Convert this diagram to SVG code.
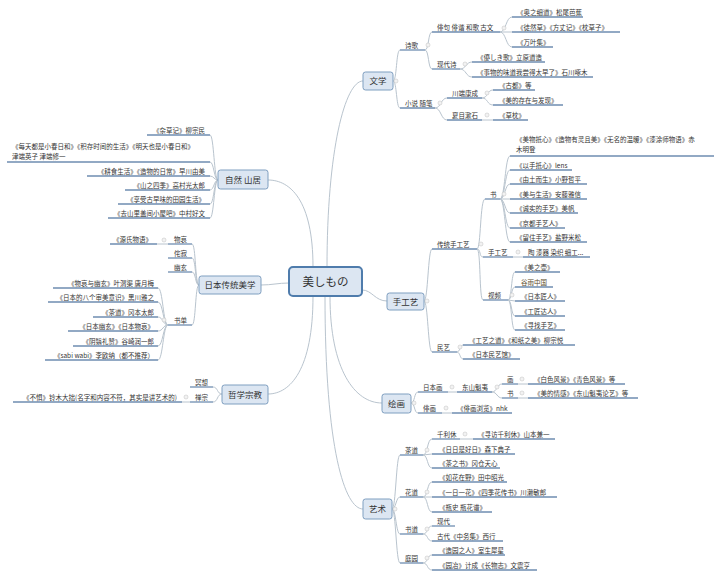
<svg xmlns="http://www.w3.org/2000/svg" width="720" height="578" viewBox="0 0 720 578">
<style>
text{font-family:"Noto Sans CJK SC","Noto Sans",sans-serif;fill:#333}
.t{font-size:6.5px}
.r{text-anchor:end}
.ul{stroke:#6e8db0;stroke-width:1.3;fill:none}
.c{stroke:#b9c4ce;stroke-width:1;fill:none}
.box{fill:#dce6f2;stroke:#7f9fc0;stroke-width:1}
.bt{font-size:8.5px;text-anchor:middle}
.dot{fill:#f2f2f2;stroke:#c8c8c8;stroke-width:.6}
</style>
<rect width="720" height="578" fill="#fff"/>
<g id="connectors">
<path class="c" d="M327 267C327 150 345 81 363 81"/>
<path class="c" d="M313 267C313 200 290 180 268 180"/>
<path class="c" d="M289 283C278 283 272 285 261 285"/>
<path class="c" d="M362 290C372 290 375 301 387 301"/>
<path class="c" d="M313 296C313 370 290 394 268 394"/>
<path class="c" d="M330 296C330 370 355 403 382 403"/>
<path class="c" d="M325 296C325 450 345 509 363 509"/>
<!-- 文学 -->
<path class="c" d="M393 81C397 81 396 50 400 50M393 81C397 81 396 108 400 108"/>
<path class="c" d="M425 50C429 50 428 32 432 32M425 50C429 50 428 69 432 69"/>
<path class="c" d="M500 32C506 32 506 17 512 17M500 32L512 32M500 32C506 32 506 47 512 47"/>
<path class="c" d="M460 69C466 69 466 62 472 62M460 69C466 69 466 77 472 77"/>
<path class="c" d="M435 108C441 108 441 98 447 98M435 108C441 108 441 120 447 120"/>
<path class="c" d="M482 98C488 98 487 90 493 90M482 98C488 98 487 105 493 105M482 120L493 120"/>
<!-- 手工艺 -->
<path class="c" d="M424 301C428 301 428 249 432 249M424 301C428 301 428 352 432 352"/>
<path class="c" d="M477 249C481 249 480 199 485 199M477 249C481 249 479 257 483 257M477 249C481 249 479 300 483 300"/>
<path class="c" d="M500 199C505 199 505 156 510 156M500 199C505 199 505 170 510 170M500 199C505 199 505 184 510 184M500 199L510 199M500 199C505 199 505 213 510 213M500 199C505 199 505 228 510 228M500 199C505 199 505 242 510 242"/>
<path class="c" d="M513 257L523 257"/>
<path class="c" d="M508 300C512 300 511 272 515 272M508 300C512 300 511 287 515 287M508 300L515 301M508 300C512 300 511 316 515 316M508 300C512 300 511 330 515 330"/>
<path class="c" d="M457 352C460 352 460 345 463 345M457 352C460 352 460 359 463 359"/>
<!-- 绘画 -->
<path class="c" d="M411 403C415 403 414 392 418 392M411 403C415 403 414 413 418 413"/>
<path class="c" d="M448 392L457 392M442 413L452 413"/>
<path class="c" d="M492 392C497 392 497 384 502 384M492 392C497 392 497 398 502 398"/>
<path class="c" d="M518 384L528 384M518 398L528 398"/>
<!-- 艺术 -->
<path class="c" d="M392 509C396 509 396 455 400 455M392 509C396 509 396 497 400 497M392 509C396 509 396 534 400 534M392 509C396 509 396 563 400 563"/>
<path class="c" d="M423 455C428 455 427 439 432 439M423 455L432 454M423 455C428 455 427 468 432 468"/>
<path class="c" d="M460 439L473 439"/>
<path class="c" d="M423 497C428 497 427 482 432 482M423 497L432 497M423 497C428 497 427 512 432 512"/>
<path class="c" d="M423 534C428 534 427 526 432 526M423 534C428 534 427 541 432 541"/>
<path class="c" d="M423 563C428 563 427 555 432 555M423 563C428 563 427 570 432 570"/>
<!-- 自然 山居 -->
<path class="c" d="M218 180C214 180 214 135 210 135M218 180C214 180 214 162 210 162M218 180C214 180 214 176 210 176M218 180C214 180 214 190 210 190M218 180C214 180 214 204 210 204M218 180C214 180 214 218 210 218"/>
<!-- 日本传统美学 -->
<path class="c" d="M199 285C195 285 196 244 192 244M199 285C195 285 196 258 192 258M199 285C195 285 196 272 192 272M199 285C195 285 196 325 192 325"/>
<path class="c" d="M168 244L157 244"/>
<path class="c" d="M168 325C163 325 163 288 158 288M168 325C163 325 163 302 158 302M168 325C163 325 163 317 158 317M168 325C163 325 163 331 158 331M168 325C163 325 163 346 158 346M168 325C163 325 163 360 158 360"/>
<!-- 哲学宗教 -->
<path class="c" d="M222 394C217 394 218 387 213 387M222 394C217 394 218 402 213 402"/>
<path class="c" d="M190 402L182 402"/>
</g>

<g id="center">
<rect x="289" y="267" width="73" height="29" rx="4" fill="#dce6f2" stroke="#4f7cac" stroke-width="2"/>
<text x="325.5" y="285.5" font-size="11.5" text-anchor="middle">美しもの</text>
</g>

<!-- ========== 文学 ========== -->
<g id="wenxue"><rect class="box" x="363" y="72" width="30" height="18" rx="2.5"/><text class="bt" x="378" y="84">文学</text><circle class="dot" cx="396" cy="81" r="2"/></g>
<g id="shige"><path class="ul" d="M400 50H425"/><text class="t" x="405" y="47.5">诗歌</text><circle class="dot" cx="428" cy="45" r="2"/></g>
<g id="haiku"><path class="ul" d="M432 32H500"/><text class="t" x="437" y="29.5">俳句 俳谐 和歌 古文</text><circle class="dot" cx="504" cy="28" r="2"/></g>
<g id="okunohosomichi"><path class="ul" d="M512 17H583"/><text class="t" x="517" y="14.5">《奥之细道》松尾芭蕉</text></g>
<g id="tsurezuregusa"><path class="ul" d="M512 32H620"/><text class="t" x="517" y="29.5">《徒然草》《方丈记》《枕草子》</text></g>
<g id="manyoshu"><path class="ul" d="M512 47H553"/><text class="t" x="517" y="44.5">《万叶集》</text></g>
<g id="xiandaishi"><path class="ul" d="M432 69H460"/><text class="t" x="437" y="66.5">现代诗</text><circle class="dot" cx="465" cy="64" r="2"/></g>
<g id="yasashikiuta"><path class="ul" d="M472 62H545"/><text class="t" x="477" y="59.5">《優しき歌》立原道造</text></g>
<g id="takuboku"><path class="ul" d="M472 77H593"/><text class="t" x="477" y="74.5">《事物的味道我尝得太早了》石川啄木</text></g>
<g id="xiaoshuo"><path class="ul" d="M400 108H435"/><text class="t" x="405" y="105.5">小说 随笔</text><circle class="dot" cx="440" cy="103" r="2"/></g>
<g id="kawabata"><path class="ul" d="M447 98H482"/><text class="t" x="452" y="95.5">川端康成</text><circle class="dot" cx="487" cy="93" r="2"/></g>
<g id="koto"><path class="ul" d="M493 90H535"/><text class="t" x="499" y="87.5">《古都》等</text></g>
<g id="bidesonzai"><path class="ul" d="M493 105H563"/><text class="t" x="499" y="102.5">《美的存在与发现》</text></g>
<g id="natsume"><path class="ul" d="M447 120H482"/><text class="t" x="452" y="117.5">夏目漱石</text><circle class="dot" cx="487" cy="115" r="2"/></g>
<g id="kusamakura"><path class="ul" d="M493 120H528"/><text class="t" x="499" y="117.5">《草枕》</text></g>

<!-- ========== 手工艺 ========== -->
<g id="shougongyi"><rect class="box" x="387" y="293" width="37" height="17" rx="2.5"/><text class="bt" x="405.5" y="304.5">手工艺</text><circle class="dot" cx="427" cy="301" r="2"/></g>
<g id="chuantong"><path class="ul" d="M432 249H477"/><text class="t" x="437" y="246.5">传统手工艺</text><circle class="dot" cx="481" cy="244" r="2"/></g>
<g id="shu1"><path class="ul" d="M485 199H500"/><text class="t" x="490" y="196.5">书</text><circle class="dot" cx="504" cy="194" r="2"/></g>
<g id="akagi"><path class="ul" d="M510 156H714"/><text class="t" x="516" y="142">《美物抵心》《造物有灵且美》《无名的温暖》《漆涂师物语》赤</text><text class="t" x="516" y="152">木明登</text></g>
<g id="yishoudixin"><path class="ul" d="M510 170H572"/><text class="t" x="516" y="167.5">《以手抵心》lens</text></g>
<g id="youtuersheng"><path class="ul" d="M510 184H587"/><text class="t" x="516" y="181.5">《由土而生》小野哲平</text></g>
<g id="meiyushenghuo"><path class="ul" d="M510 199H587"/><text class="t" x="516" y="196.5">《美与生活》安藤雅信</text></g>
<g id="chengshi"><path class="ul" d="M510 213H578"/><text class="t" x="516" y="210.5">《诚实的手艺》美帆</text></g>
<g id="jingdu"><path class="ul" d="M510 228H565"/><text class="t" x="516" y="225.5">《京都手艺人》</text></g>
<g id="liuzhu"><path class="ul" d="M510 242H587"/><text class="t" x="516" y="239.5">《留住手艺》盐野米松</text></g>
<g id="shougongyi2"><path class="ul" d="M483 257H513"/><text class="t" x="488" y="254.5">手工艺</text><circle class="dot" cx="518" cy="252" r="2"/></g>
<g id="taoqi"><path class="ul" d="M523 257H590"/><text class="t" x="528" y="254.5">陶 漆器 染织 细工...</text></g>
<g id="shipin"><path class="ul" d="M483 300H508"/><text class="t" x="488" y="297.5">视频</text><circle class="dot" cx="512" cy="295" r="2"/></g>
<g id="meizhihu"><path class="ul" d="M515 272H560"/><text class="t" x="521" y="269.5">《美之壶》</text></g>
<g id="guyu"><path class="ul" d="M515 287H553"/><text class="t" x="521" y="284.5" style="fill:#5a4a2a">谷雨中国</text></g>
<g id="jiangren"><path class="ul" d="M515 301H565"/><text class="t" x="521" y="298.5">《日本匠人》</text></g>
<g id="gongjiang"><path class="ul" d="M515 316H565"/><text class="t" x="521" y="313.5">《工匠达人》</text></g>
<g id="xunzhao"><path class="ul" d="M515 330H565"/><text class="t" x="521" y="327.5">《寻找手艺》</text></g>
<g id="minyi"><path class="ul" d="M432 352H457"/><text class="t" x="437" y="349.5">民艺</text><circle class="dot" cx="460" cy="347" r="2"/></g>
<g id="gongyizhidao"><path class="ul" d="M463 345H575"/><text class="t" x="469" y="342.5">《工艺之道》《和纸之美》柳宗悦</text></g>
<g id="minyiguan"><path class="ul" d="M463 359H520"/><text class="t" x="469" y="356.5">《日本民艺馆》</text></g>

<!-- ========== 绘画 ========== -->
<g id="huihua"><rect class="box" x="382" y="394" width="29" height="19" rx="2.5"/><text class="bt" x="396.5" y="406.5">绘画</text><circle class="dot" cx="414" cy="403" r="2"/></g>
<g id="ribenhua"><path class="ul" d="M418 392H448"/><text class="t" x="423" y="389.5">日本画</text><circle class="dot" cx="452" cy="387" r="2"/></g>
<g id="dongshan"><path class="ul" d="M457 392H492"/><text class="t" x="462" y="389.5">东山魁夷</text><circle class="dot" cx="497" cy="387" r="2"/></g>
<g id="hua"><path class="ul" d="M502 384H518"/><text class="t" x="507" y="381.5">画</text><circle class="dot" cx="522" cy="379" r="2"/></g>
<g id="baisefengjing"><path class="ul" d="M528 384H625"/><text class="t" x="534" y="381.5">《白色风景》《青色风景》等</text></g>
<g id="shu2"><path class="ul" d="M502 398H518"/><text class="t" x="507" y="395.5">书</text><circle class="dot" cx="522" cy="393" r="2"/></g>
<g id="meideqinggan"><path class="ul" d="M528 398H638"/><text class="t" x="534" y="395.5">《美的情感》《东山魁夷论艺》等</text></g>
<g id="haiga"><path class="ul" d="M418 413H442"/><text class="t" x="423" y="410.5">俳画</text><circle class="dot" cx="446" cy="408" r="2"/></g>
<g id="haigaliulan"><path class="ul" d="M452 413H512"/><text class="t" x="457" y="410.5">《俳画浏览》nhk</text></g>

<!-- ========== 艺术 ========== -->
<g id="yishu"><rect class="box" x="363" y="499" width="29" height="20" rx="2.5"/><text class="bt" x="377.5" y="512">艺术</text><circle class="dot" cx="395" cy="509" r="2"/></g>
<g id="chadao"><path class="ul" d="M400 455H423"/><text class="t" x="405" y="452.5">茶道</text><circle class="dot" cx="427" cy="450" r="2"/></g>
<g id="qianlixiu"><path class="ul" d="M432 439H460"/><text class="t" x="437" y="436.5">千利休</text><circle class="dot" cx="465" cy="434" r="2"/></g>
<g id="xunfang"><path class="ul" d="M473 439H555"/><text class="t" x="478" y="436.5">《寻访千利休》山本兼一</text></g>
<g id="ririshihaori"><path class="ul" d="M432 454H515"/><text class="t" x="439" y="451.5">《日日是好日》森下典子</text></g>
<g id="chazhishu"><path class="ul" d="M432 468H500"/><text class="t" x="439" y="465.5">《茶之书》冈仓天心</text></g>
<g id="huadao"><path class="ul" d="M400 497H423"/><text class="t" x="405" y="494.5">花道</text><circle class="dot" cx="427" cy="492" r="2"/></g>
<g id="ruhuazaiye"><path class="ul" d="M432 482H507"/><text class="t" x="439" y="479.5">《如花在野》田中昭光</text></g>
<g id="yiriyihua"><path class="ul" d="M432 497H557"/><text class="t" x="439" y="494.5">《一日一花》《四季花传书》川濑敏郎</text></g>
<g id="pingshi"><path class="ul" d="M432 512H492"/><text class="t" x="439" y="509.5">《瓶史 瓶花谱》</text></g>
<g id="shudao"><path class="ul" d="M400 534H423"/><text class="t" x="405" y="531.5">书道</text><circle class="dot" cx="427" cy="529" r="2"/></g>
<g id="xiandai"><path class="ul" d="M432 526H455"/><text class="t" x="437" y="523.5">现代</text></g>
<g id="gudai"><path class="ul" d="M432 541H503"/><text class="t" x="437" y="538.5">古代《中务集》西行</text></g>
<g id="tingyuan"><path class="ul" d="M400 563H423"/><text class="t" x="405" y="560.5">庭园</text><circle class="dot" cx="427" cy="558" r="2"/></g>
<g id="zaoyuan"><path class="ul" d="M432 555H505"/><text class="t" x="439" y="552.5">《造园之人》室生犀星</text></g>
<g id="yuanye"><path class="ul" d="M432 570H537"/><text class="t" x="439" y="567.5">《园冶》计成《长物志》文震亨</text></g>

<!-- ========== 自然 山居 ========== -->
<g id="ziran"><rect class="box" x="218" y="170" width="50" height="19" rx="2.5"/><text class="bt" x="243" y="182.5">自然 山居</text></g>
<g id="zacaoji"><path class="ul" d="M147 135H210"/><text class="t r" x="205" y="132.5">《杂草记》柳宗民</text></g>
<g id="xiaochunri"><path class="ul" d="M7 162H210"/><text class="t" x="12" y="148.5">《每天都是小春日和》《积存时间的生活》《明天也是小春日和》</text><text class="t" x="12" y="159">津端英子 津端修一</text></g>
<g id="gengshi"><path class="ul" d="M87 176H210"/><text class="t r" x="205" y="173.5">《耕食生活》《造物的日常》早川由美</text></g>
<g id="shanzhisiji"><path class="ul" d="M125 190H210"/><text class="t r" x="205" y="187.5">《山之四季》高村光太郎</text></g>
<g id="guzaowei"><path class="ul" d="M118 204H210"/><text class="t r" x="205" y="201.5">《享受古早味的田园生活》</text></g>
<g id="xiaowu"><path class="ul" d="M108 218H210"/><text class="t r" x="205" y="215.5">《去山里盖间小屋吧》中村好文</text></g>

<!-- ========== 日本传统美学 ========== -->
<g id="meixue"><rect class="box" x="199" y="276" width="62" height="18" rx="2.5"/><text class="bt" x="230" y="288">日本传统美学</text></g>
<g id="wuai"><path class="ul" d="M168 244H192"/><text class="t r" x="187" y="241.5">物哀</text><circle class="dot" cx="164" cy="240" r="2"/></g>
<g id="genji"><path class="ul" d="M110 244H157"/><text class="t r" x="152" y="241.5">《源氏物语》</text></g>
<g id="wabisabi"><path class="ul" d="M168 258H192"/><text class="t r" x="187" y="255.5">侘寂</text></g>
<g id="youxuan"><path class="ul" d="M168 272H192"/><text class="t r" x="187" y="269.5">幽玄</text></g>
<g id="shudan"><path class="ul" d="M168 325H192"/><text class="t r" x="187" y="322.5">书单</text><circle class="dot" cx="164" cy="320" r="2"/></g>
<g id="wuaiyuyouxuan"><path class="ul" d="M53 288H158"/><text class="t r" x="154" y="285.5">《物哀与幽玄》叶渭渠 唐月梅</text></g>
<g id="bagemeiyishi"><path class="ul" d="M48 302H158"/><text class="t r" x="154" y="299.5">《日本的八个审美意识》黑川雅之</text></g>
<g id="okamoto"><path class="ul" d="M93 317H158"/><text class="t r" x="154" y="314.5">《茶道》冈本太郎</text></g>
<g id="ribenyouxuan"><path class="ul" d="M68 331H158"/><text class="t r" x="154" y="328.5">《日本幽玄》《日本物哀》</text></g>
<g id="yinyi"><path class="ul" d="M73 346H158"/><text class="t r" x="154" y="343.5">《阴翳礼赞》谷崎润一郎</text></g>
<g id="sabiwabi"><path class="ul" d="M45 360H158"/><text class="t r" x="154" y="357.5">《sabi wabi》李欧纳（都不推荐）</text></g>

<!-- ========== 哲学宗教 ========== -->
<g id="zhexue"><rect class="box" x="222" y="385" width="46" height="19" rx="2.5"/><text class="bt" x="245" y="397.5">哲学宗教</text></g>
<g id="mingxiang"><path class="ul" d="M190 387H213"/><text class="t r" x="208" y="384.5">冥想</text></g>
<g id="chanzong"><path class="ul" d="M190 402H213"/><text class="t r" x="208" y="399.5">禅宗</text><circle class="dot" cx="186" cy="397" r="2"/></g>
<g id="buju"><path class="ul" d="M13 402H182"/><text class="t r" x="177" y="399.5">《不惧》铃木大拙(名字和内容不符，其实是讲艺术的)</text></g>
</svg>
